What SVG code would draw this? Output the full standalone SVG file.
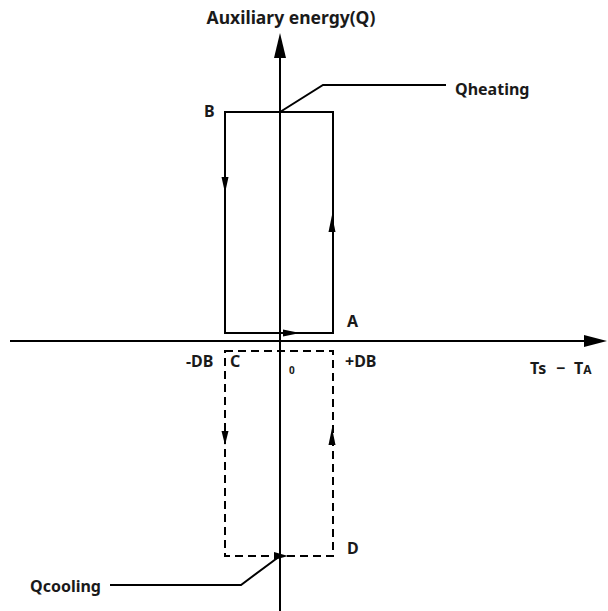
<svg xmlns="http://www.w3.org/2000/svg" width="608" height="611" viewBox="0 0 608 611">
<style>
.ln{stroke:#000;stroke-width:2;fill:none}
.ds{stroke:#000;stroke-width:2;fill:none;stroke-dasharray:8 5}
.ah{fill:#000;stroke:none}
text{font-family:"Noto Sans","Open Sans","Liberation Sans",sans-serif;font-weight:bold;fill:#1a1a1a}
.lb{font-size:16px}
</style>
<rect width="608" height="611" fill="#fff"/>
<g id="axes">
<line class="ln" x1="280" y1="50" x2="280" y2="611"/>
<polygon class="ah" points="280,33 274,58 286,58"/>
<line class="ln" x1="10" y1="341" x2="590" y2="341"/>
<polygon class="ah" points="607,341 584,335 584,347"/>
<text x="291" y="24" text-anchor="middle" font-size="17.5">Auxiliary energy(Q)</text>
<text class="lb" y="374"><tspan x="530">Ts</tspan><tspan x="556">−</tspan><tspan x="574">T</tspan><tspan font-size="12">A</tspan></text>
<text x="289" y="374" font-size="10">0</text>
</g>
<g id="heating">
<rect class="ln" x="225" y="112" width="108" height="221"/>
<polygon class="ah" points="225,193 221.5,177 228.5,177"/>
<polygon class="ah" points="332,215 328.5,232 335.5,232"/>
<polygon class="ah" points="300,333 283,329.5 283,336.5"/>
<text class="lb" x="204" y="117">B</text>
<text class="lb" x="347" y="327">A</text>
</g>
<g id="cooling">
<rect class="ds" x="225" y="351" width="108" height="205"/>
<polygon class="ah" points="225,445 221.5,431 228.5,431"/>
<polygon class="ah" points="332,428 328.5,445 335.5,445"/>
<polygon class="ah" points="288,556 274,552 274,560"/>
<text class="lb" x="230" y="367">C</text>
<text class="lb" x="347" y="554">D</text>
<text class="lb" x="186" y="367">-DB</text>
<text class="lb" x="345" y="367">+DB</text>
</g>
<g id="connectors">
<polyline class="ln" points="280,112 323,85 446,85" stroke-width="1.6"/>
<polyline class="ln" points="280,556 241,585 110,585" stroke-width="1.6"/>
</g>
<g id="qheating"><text class="lb" x="455" y="95">Qheating</text></g>
<g id="qcooling"><text class="lb" x="30" y="592">Qcooling</text></g>
</svg>
